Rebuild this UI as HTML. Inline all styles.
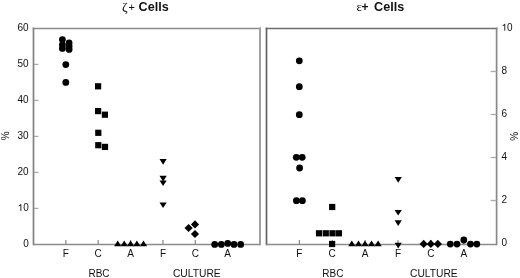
<!DOCTYPE html>
<html><head><meta charset="utf-8"><style>
html,body{margin:0;padding:0;background:#fff;}
body{width:520px;height:278px;overflow:hidden;}
svg{display:block;font-family:"Liberation Sans", sans-serif;filter:grayscale(1) blur(0.35px);}
text{fill:#111;}
</style></head><body>
<svg width="520" height="278" viewBox="0 0 520 278">
<rect width="520" height="278" fill="#fff"/>
<g fill="#000">
<line x1="33.50" y1="27.55" x2="33.50" y2="245.25" stroke="#808080" stroke-width="1.7"/>
<line x1="32.65" y1="28.50" x2="261.00" y2="28.50" stroke="#8c8c8c" stroke-width="1.7"/>
<line x1="260.00" y1="27.55" x2="260.00" y2="245.25" stroke="#a0a0a0" stroke-width="2.0"/>
<line x1="33.50" y1="244.50" x2="260.00" y2="244.50" stroke="#8c8c8c" stroke-width="1.7"/>
<line x1="266.50" y1="27.55" x2="266.50" y2="245.25" stroke="#646464" stroke-width="1.7"/>
<line x1="265.65" y1="28.50" x2="497.45" y2="28.50" stroke="#6c6c6c" stroke-width="1.7"/>
<line x1="496.60" y1="27.55" x2="496.60" y2="245.25" stroke="#888888" stroke-width="1.7"/>
<line x1="266.50" y1="244.50" x2="496.60" y2="244.50" stroke="#8c8c8c" stroke-width="1.7"/>
<text x="28.70" y="247.05" text-anchor="end" font-size="10" font-weight="normal" >0</text>
<line x1="34.00" y1="208.45" x2="38.50" y2="208.45" stroke="#aaa" stroke-width="1.3"/>
<path fill="#111" transform="translate(17.58 211.05) scale(0.01 -0.01)" d="M373 0L285 0L285 560Q253 530 201 500Q150 470 109 455L109 540Q180 570 235 620Q291 670 315 716L373 716Z"/>
<text x="28.70" y="211.05" text-anchor="end" font-size="10" font-weight="normal" >0</text>
<line x1="34.00" y1="172.45" x2="38.50" y2="172.45" stroke="#aaa" stroke-width="1.3"/>
<text x="28.70" y="175.05" text-anchor="end" font-size="10" font-weight="normal" >20</text>
<line x1="34.00" y1="136.45" x2="38.50" y2="136.45" stroke="#aaa" stroke-width="1.3"/>
<text x="28.70" y="139.05" text-anchor="end" font-size="10" font-weight="normal" >30</text>
<line x1="34.00" y1="100.45" x2="38.50" y2="100.45" stroke="#aaa" stroke-width="1.3"/>
<text x="28.70" y="103.05" text-anchor="end" font-size="10" font-weight="normal" >40</text>
<line x1="34.00" y1="64.45" x2="38.50" y2="64.45" stroke="#aaa" stroke-width="1.3"/>
<text x="28.70" y="67.05" text-anchor="end" font-size="10" font-weight="normal" >50</text>
<text x="28.70" y="31.05" text-anchor="end" font-size="10" font-weight="normal" >60</text>
<text x="501.50" y="245.80" text-anchor="start" font-size="10" font-weight="normal" >0</text>
<line x1="490.60" y1="200.50" x2="496.10" y2="200.50" stroke="#aaa" stroke-width="1.3"/>
<text x="501.50" y="202.80" text-anchor="start" font-size="10" font-weight="normal" >2</text>
<line x1="490.60" y1="157.50" x2="496.10" y2="157.50" stroke="#aaa" stroke-width="1.3"/>
<text x="501.50" y="159.80" text-anchor="start" font-size="10" font-weight="normal" >4</text>
<line x1="490.60" y1="114.50" x2="496.10" y2="114.50" stroke="#aaa" stroke-width="1.3"/>
<text x="501.50" y="116.80" text-anchor="start" font-size="10" font-weight="normal" >6</text>
<line x1="490.60" y1="71.50" x2="496.10" y2="71.50" stroke="#aaa" stroke-width="1.3"/>
<text x="501.50" y="73.80" text-anchor="start" font-size="10" font-weight="normal" >8</text>
<path fill="#111" transform="translate(501.50 30.80) scale(0.01 -0.01)" d="M373 0L285 0L285 560Q253 530 201 500Q150 470 109 455L109 540Q180 570 235 620Q291 670 315 716L373 716Z"/>
<text x="507.06" y="30.80" text-anchor="start" font-size="10" font-weight="normal" >0</text>
<line x1="65.86" y1="244.40" x2="65.86" y2="239.90" stroke="#888" stroke-width="1.2"/>
<text x="65.86" y="257.20" text-anchor="middle" font-size="10" font-weight="normal" >F</text>
<line x1="98.21" y1="244.40" x2="98.21" y2="239.90" stroke="#888" stroke-width="1.2"/>
<text x="98.21" y="257.20" text-anchor="middle" font-size="10" font-weight="normal" >C</text>
<line x1="130.57" y1="244.40" x2="130.57" y2="239.90" stroke="#888" stroke-width="1.2"/>
<text x="130.57" y="257.20" text-anchor="middle" font-size="10" font-weight="normal" >A</text>
<line x1="162.93" y1="244.40" x2="162.93" y2="239.90" stroke="#888" stroke-width="1.2"/>
<text x="162.93" y="257.20" text-anchor="middle" font-size="10" font-weight="normal" >F</text>
<line x1="195.29" y1="244.40" x2="195.29" y2="239.90" stroke="#888" stroke-width="1.2"/>
<text x="195.29" y="257.20" text-anchor="middle" font-size="10" font-weight="normal" >C</text>
<line x1="227.64" y1="244.40" x2="227.64" y2="239.90" stroke="#888" stroke-width="1.2"/>
<text x="227.64" y="257.20" text-anchor="middle" font-size="10" font-weight="normal" >A</text>
<line x1="299.37" y1="244.40" x2="299.37" y2="239.90" stroke="#888" stroke-width="1.2"/>
<text x="299.37" y="257.20" text-anchor="middle" font-size="10" font-weight="normal" >F</text>
<line x1="332.24" y1="244.40" x2="332.24" y2="239.90" stroke="#888" stroke-width="1.2"/>
<text x="332.24" y="257.20" text-anchor="middle" font-size="10" font-weight="normal" >C</text>
<line x1="365.11" y1="244.40" x2="365.11" y2="239.90" stroke="#888" stroke-width="1.2"/>
<text x="365.11" y="257.20" text-anchor="middle" font-size="10" font-weight="normal" >A</text>
<line x1="397.99" y1="244.40" x2="397.99" y2="239.90" stroke="#888" stroke-width="1.2"/>
<text x="397.99" y="257.20" text-anchor="middle" font-size="10" font-weight="normal" >F</text>
<line x1="430.86" y1="244.40" x2="430.86" y2="239.90" stroke="#888" stroke-width="1.2"/>
<text x="430.86" y="257.20" text-anchor="middle" font-size="10" font-weight="normal" >C</text>
<line x1="463.73" y1="244.40" x2="463.73" y2="239.90" stroke="#888" stroke-width="1.2"/>
<text x="463.73" y="257.20" text-anchor="middle" font-size="10" font-weight="normal" >A</text>
<text x="99.00" y="277.00" text-anchor="middle" font-size="10" font-weight="normal" >RBC</text>
<text x="196.80" y="277.00" text-anchor="middle" font-size="10.25" font-weight="normal" >CULTURE</text>
<text x="332.90" y="277.00" text-anchor="middle" font-size="10" font-weight="normal" >RBC</text>
<text x="433.90" y="277.00" text-anchor="middle" font-size="10.25" font-weight="normal" >CULTURE</text>
<text x="8.60" y="135.80" text-anchor="middle" font-size="10" font-weight="normal" transform="rotate(-90 8.6 135.8)">%</text>
<text x="518.20" y="136.20" text-anchor="middle" font-size="10" font-weight="normal" transform="rotate(-90 518.2 136.2)">%</text>
<text x="122.0" y="11" font-size="13.5" font-family="Liberation Serif">ζ</text>
<text x="128.6" y="11" font-size="11">+</text>
<text x="138.6" y="11" font-size="12.6" font-weight="bold">Cells</text>
<text x="356.4" y="11" font-size="13" font-family="Liberation Serif">ε</text>
<text x="361.6" y="11" font-size="12" font-weight="bold">+</text>
<text x="374.1" y="11" font-size="12.6" font-weight="bold">Cells</text>
<circle cx="62.4" cy="39.6" r="3.4"/>
<circle cx="62.4" cy="44.8" r="3.4"/>
<circle cx="62.4" cy="48.4" r="3.4"/>
<circle cx="69.1" cy="42.8" r="3.4"/>
<circle cx="69.1" cy="46.2" r="3.4"/>
<circle cx="69.1" cy="49.4" r="3.4"/>
<circle cx="65.8" cy="64.6" r="3.4"/>
<circle cx="65.8" cy="82.4" r="3.4"/>
<rect x="95.00" y="83.20" width="6.2" height="6.2"/>
<rect x="95.00" y="108.00" width="6.2" height="6.2"/>
<rect x="101.80" y="111.60" width="6.2" height="6.2"/>
<rect x="95.20" y="129.70" width="6.2" height="6.2"/>
<rect x="95.20" y="142.10" width="6.2" height="6.2"/>
<rect x="101.90" y="143.80" width="6.2" height="6.2"/>
<path d="M117.70 240.60L121.30 246.30L114.10 246.30Z"/>
<path d="M124.20 240.60L127.80 246.30L120.60 246.30Z"/>
<path d="M130.60 240.60L134.20 246.30L127.00 246.30Z"/>
<path d="M136.90 240.60L140.50 246.30L133.30 246.30Z"/>
<path d="M143.50 240.60L147.10 246.30L139.90 246.30Z"/>
<path d="M159.50 159.07L166.70 159.07L163.10 164.77Z"/>
<path d="M159.50 175.75L166.70 175.75L163.10 181.45Z"/>
<path d="M159.50 180.40L166.70 180.40L163.10 186.10Z"/>
<path d="M159.50 202.40L166.70 202.40L163.10 208.10Z"/>
<path d="M188.60 223.90L192.70 228.00L188.60 232.10L184.50 228.00Z"/>
<path d="M195.00 220.30L199.10 224.40L195.00 228.50L190.90 224.40Z"/>
<path d="M195.00 229.90L199.10 234.00L195.00 238.10L190.90 234.00Z"/>
<circle cx="214.7" cy="244.4" r="3.4"/>
<circle cx="221.3" cy="244.4" r="3.4"/>
<circle cx="227.7" cy="243.4" r="3.4"/>
<circle cx="234" cy="244.4" r="3.4"/>
<circle cx="240.7" cy="244.4" r="3.4"/>
<circle cx="299.3" cy="60.8" r="3.4"/>
<circle cx="299.3" cy="86.7" r="3.4"/>
<circle cx="299.3" cy="114.7" r="3.4"/>
<circle cx="296.3" cy="157.3" r="3.4"/>
<circle cx="302.2" cy="157.3" r="3.4"/>
<circle cx="299.6" cy="168" r="3.4"/>
<circle cx="296.4" cy="200.7" r="3.4"/>
<circle cx="302.4" cy="200.7" r="3.4"/>
<rect x="329.10" y="203.90" width="6.2" height="6.2"/>
<rect x="315.90" y="230.20" width="6.2" height="6.2"/>
<rect x="322.70" y="230.20" width="6.2" height="6.2"/>
<rect x="329.40" y="230.20" width="6.2" height="6.2"/>
<rect x="335.80" y="230.20" width="6.2" height="6.2"/>
<rect x="329.00" y="240.90" width="6.2" height="6.2"/>
<path d="M351.80 240.60L355.40 246.30L348.20 246.30Z"/>
<path d="M358.50 240.60L362.10 246.30L354.90 246.30Z"/>
<path d="M365.00 240.60L368.60 246.30L361.40 246.30Z"/>
<path d="M371.50 240.60L375.10 246.30L367.90 246.30Z"/>
<path d="M378.10 240.60L381.70 246.30L374.50 246.30Z"/>
<path d="M394.60 177.00L401.80 177.00L398.20 182.70Z"/>
<path d="M394.60 209.90L401.80 209.90L398.20 215.60Z"/>
<path d="M394.60 220.20L401.80 220.20L398.20 225.90Z"/>
<path d="M394.60 242.70L401.80 242.70L398.20 248.40Z"/>
<path d="M423.65 239.80L427.75 243.90L423.65 248.00L419.55 243.90Z"/>
<path d="M430.80 239.80L434.90 243.90L430.80 248.00L426.70 243.90Z"/>
<path d="M437.85 239.80L441.95 243.90L437.85 248.00L433.75 243.90Z"/>
<circle cx="450.3" cy="244.1" r="3.4"/>
<circle cx="457" cy="244.1" r="3.4"/>
<circle cx="463.8" cy="240.0" r="3.4"/>
<circle cx="470.5" cy="244.1" r="3.4"/>
<circle cx="476.8" cy="244.1" r="3.4"/>
</g>
</svg>
</body></html>
